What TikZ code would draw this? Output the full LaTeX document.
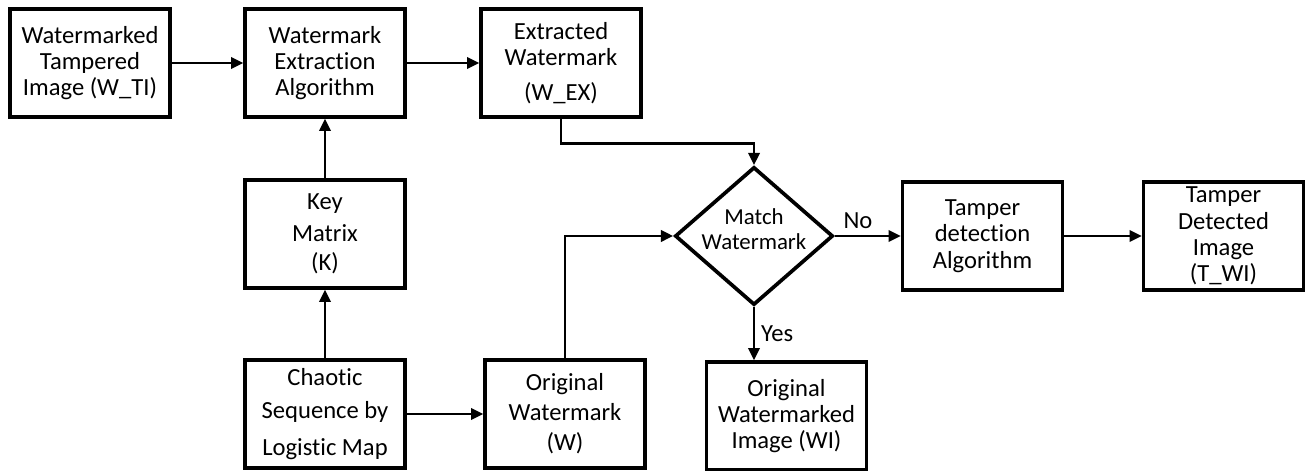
\documentclass[tikz,border=0pt]{standalone}
\usepackage{fontspec}
\setmainfont[Ligatures=NoCommon]{Carlito}
\usetikzlibrary{positioning,shapes.geometric,arrows.meta}

\begin{document}
\begin{tikzpicture}[node distance=4.7cm,on grid,auto,
  >={Triangle[length=7pt,width=6.5pt]},
  txt/.style={font=\fontsize{14}{15}\selectfont},
  box/.style={draw,txt,line width=1.9pt,minimum width=3.2cm,minimum height=2.16cm,inner sep=0pt,align=center},
  decision/.style={draw,diamond,line width=2.1pt,minimum width=3.16cm,minimum height=2.76cm,inner sep=0pt},
  flow/.style={->,line width=1.4pt}]
  \useasboundingbox (0,0) rectangle (26.14,-9.42);
  \node[box] (wti) at (1.8,-1.26) {Watermarked\\Tampered\\Image (W\_TI)};
  \node[box] (extract) [right = of wti] {Watermark\\Extraction\\Algorithm};
  \node[box] (wex) [right = 4.72cm of extract] {Extracted\\Watermark\\[5pt](W\_EX)};
  \node[box] (key) [below = 3.42cm of extract] {Key\\[3pt]Matrix\\[2pt](K)};
  \node[box] (chaos) [below = 3.6cm of key] {Chaotic\\[4pt]Sequence by\\[6pt]Logistic Map};
  \node[box] (origw) [right = 4.8cm of chaos] {Original\\[2pt]Watermark\\[2pt](W)};
  \node[decision,label={[font=\fontsize{13}{14}\selectfont,align=center,yshift=4pt]center:{Match\\Watermark}}] (match)
    [above right = 3.56cm and 3.78cm of origw] {};
  \node[box] (origwi) [below right = 3.6cm and 0.65cm of match] {Original\\Watermarked\\Image (WI)};
  \node[box] (tdet) [right = 4.57cm of match] {Tamper\\detection\\Algorithm};
  \node[box] (tdimg) [right = 4.82cm of tdet] {Tamper\\Detected\\Image\\(T\_WI)};
  \path[flow]
  (wti) edge (extract)
  (extract) edge (wex)
  (key) edge (extract)
  (chaos) edge (key)
  (chaos) edge (origw)
  (match) edge node [txt,above,pos=0.35] {No} (tdet)
  (tdet) edge (tdimg)
  ;
  \draw[flow] (wex.south) -- ++(0,-0.5) -| (match.north);
  \draw[flow] (origw.north) |- (match.west);
  \draw[flow] (match.south) -- node [txt,right] {Yes} (match.south |- origwi.north);
\end{tikzpicture}
\end{document}
